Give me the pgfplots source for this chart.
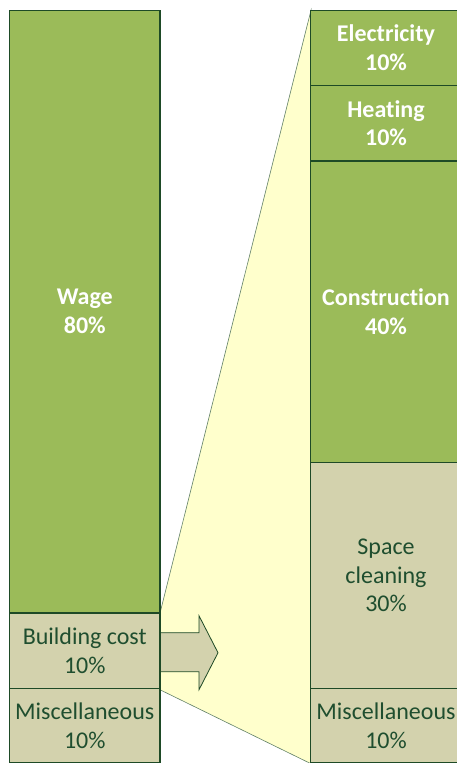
\documentclass[border=0pt]{standalone}
\usepackage{pgfplots}
\pgfplotsset{compat=1.18}
\usepackage{fontspec}
\setmainfont{Carlito}[Ligatures=NoCommon]
\definecolor{bargreen}{HTML}{9BBB59}
\definecolor{barbeige}{HTML}{D3D2AD}
\definecolor{edgegreen}{HTML}{1E4A26}
\definecolor{textgreen}{HTML}{1F4E2F}
\definecolor{zoomyellow}{HTML}{FFFFCC}
\newcommand{\lblfont}{\fontsize{24}{28.8}\selectfont}
\begin{document}
\begin{tikzpicture}
\pgfplotsset{base/.style={
  scale only axis, width=457pt, height=763pt,
  xmin=0, xmax=457, ymin=0.1, ymax=101.36,
  enlargelimits=false, hide axis, clip=false}}
% zoom connector and arrow
\begin{axis}[base]
\addplot[fill=zoomyellow, draw=edgegreen!70, line width=0.6pt]
  coordinates {(160,20) (311,100) (311,0) (160,9.82) (160,20)};
\addplot[fill=barbeige, draw=edgegreen, line width=0.8pt]
  coordinates {(150,17.39) (199,17.39) (199,19.64) (218,14.73) (199,9.82) (199,12.21) (150,12.21) (150,17.39)};
\end{axis}
% stacked bars
\begin{axis}[base, ybar stacked, bar width=150.5,
  every axis plot/.append style={draw=edgegreen, line width=1.4pt}]
\addplot[fill=barbeige] coordinates {(84.75,10) (386,10)};
\addplot[fill=barbeige] coordinates {(84.75,10) (386,30)};
\addplot[fill=bargreen] coordinates {(84.75,80) (386,40)};
\addplot[fill=bargreen] coordinates {(84.75,0) (386,10)};
\addplot[fill=bargreen] coordinates {(84.75,0) (386,10)};
\end{axis}
% labels
\begin{axis}[base]
\node[align=center, text=white, font=\lblfont\bfseries] at (axis cs:84.75,60) {Wage\\80\%};
\node[align=center, text=textgreen, font=\lblfont] at (axis cs:84.75,15) {Building cost\\10\%};
\node[align=center, text=textgreen, font=\lblfont] at (axis cs:84.75,5) {Miscellaneous\\10\%};
\node[align=center, text=white, font=\lblfont\bfseries] at (axis cs:386,95) {Electricity\\10\%};
\node[align=center, text=white, font=\lblfont\bfseries] at (axis cs:386,85) {Heating\\10\%};
\node[align=center, text=white, font=\lblfont\bfseries] at (axis cs:386,60) {Construction\\40\%};
\node[align=center, text=textgreen, font=\lblfont] at (axis cs:386,25) {Space\\cleaning\\30\%};
\node[align=center, text=textgreen, font=\lblfont] at (axis cs:386,5) {Miscellaneous\\10\%};
\end{axis}
\pgfresetboundingbox
\path (current axis.south west) rectangle (current axis.north east);
\end{tikzpicture}
\end{document}
